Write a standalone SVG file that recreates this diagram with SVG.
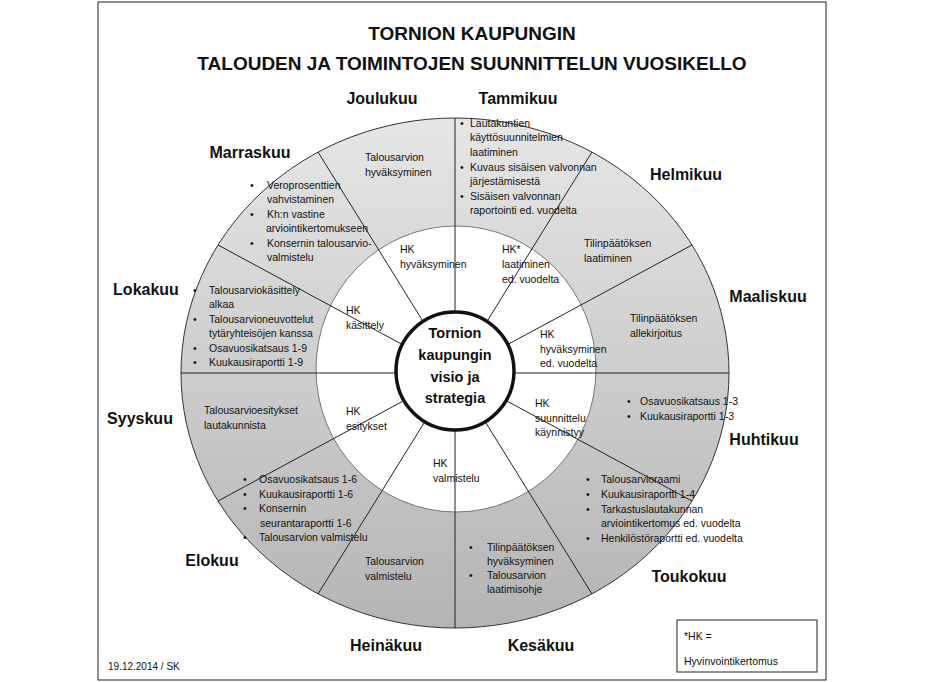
<svg xmlns="http://www.w3.org/2000/svg" width="945" height="682" viewBox="0 0 945 682">
<defs>
<linearGradient id="g" x1="0" y1="0" x2="0" y2="1"><stop offset="0" stop-color="#e6e6e6"/><stop offset="1" stop-color="#b4b4b4"/></linearGradient>
<style>
text{font-family:"Liberation Sans",Arial,sans-serif;fill:#111}
.t{font-size:19px;font-weight:bold;text-anchor:middle}
.m{font-size:16px;font-weight:bold;text-anchor:middle}
.s{font-size:10.5px}
.c{font-size:14.5px;font-weight:bold;text-anchor:middle}
.sp{stroke:#222;stroke-width:1}
</style>
</defs>
<rect x="98" y="2" width="728" height="678" fill="#fff" stroke="#222"/>
<text class="t" x="472" y="40">TORNION KAUPUNGIN</text>
<text class="t" x="472" y="70">TALOUDEN JA TOIMINTOJEN SUUNNITTELUN VUOSIKELLO</text>
<g id="ring">
<ellipse cx="455" cy="373" rx="274" ry="255" fill="url(#g)" stroke="#333"/>
<ellipse cx="456" cy="369" rx="140" ry="143" fill="#fff" stroke="#777"/>
</g>
<g id="connectors" class="sp">
<line x1="455" y1="118" x2="455" y2="628"/>
<line x1="181" y1="373" x2="729" y2="373"/>
<line x1="455" y1="373" x2="592" y2="152"/>
<line x1="455" y1="373" x2="692" y2="245"/>
<line x1="455" y1="373" x2="692" y2="501"/>
<line x1="455" y1="373" x2="592" y2="594"/>
<line x1="455" y1="373" x2="318" y2="594"/>
<line x1="455" y1="373" x2="218" y2="501"/>
<line x1="455" y1="373" x2="218" y2="245"/>
<line x1="455" y1="373" x2="318" y2="152"/>
</g>
<g id="center"><circle cx="455" cy="371" r="59" fill="#fff" stroke="#111" stroke-width="3.5"/>
<text class="c" x="455" y="338">Tornion</text><text class="c" x="455" y="360">kaupungin</text><text class="c" x="455" y="382">visio ja</text><text class="c" x="455" y="403">strategia</text></g>
<g id="months">
<text class="m" x="382" y="104">Joulukuu</text><text class="m" x="518" y="104">Tammikuu</text>
<text class="m" x="250" y="158">Marraskuu</text><text class="m" x="686" y="180">Helmikuu</text>
<text class="m" x="146" y="295">Lokakuu</text><text class="m" x="768" y="302">Maaliskuu</text>
<text class="m" x="140" y="424">Syyskuu</text><text class="m" x="764" y="445">Huhtikuu</text>
<text class="m" x="212" y="566">Elokuu</text><text class="m" x="689" y="582">Toukokuu</text>
<text class="m" x="386" y="651">Heinäkuu</text><text class="m" x="541" y="651">Kesäkuu</text>
</g>
<g id="jan" class="s"><text x="460" y="127">•</text><text x="470" y="127">Lautakuntien</text><text x="470" y="141">käyttösuunnitelmien</text><text x="470" y="156">laatiminen</text><text x="460" y="171">•</text><text x="470" y="171">Kuvaus sisäisen valvonnan</text><text x="470" y="185">järjestämisestä</text><text x="460" y="200">•</text><text x="470" y="200">Sisäisen valvonnan</text><text x="470" y="214">raportointi ed. vuodelta</text></g>
<g id="dec" class="s"><text x="365" y="161">Talousarvion</text><text x="365" y="176">hyväksyminen</text></g>
<g id="nov" class="s"><text x="250" y="189">•</text><text x="267" y="189">Veroprosenttien</text><text x="267" y="203">vahvistaminen</text><text x="250" y="218">•</text><text x="267" y="218">Kh:n vastine</text><text x="266" y="232">arviointikertomukseen</text><text x="250" y="247">•</text><text x="267" y="247">Konsernin talousarvio-</text><text x="267" y="261">valmistelu</text></g>
<g id="feb" class="s"><text x="584" y="247">Tilinpäätöksen</text><text x="584" y="262">laatiminen</text></g>
<g id="mar" class="s"><text x="630" y="322">Tilinpäätöksen</text><text x="630" y="337">allekirjoitus</text></g>
<g id="apr" class="s"><text x="627" y="405">•</text><text x="640" y="405">Osavuosikatsaus 1-3</text><text x="627" y="420">•</text><text x="640" y="420">Kuukausiraportti 1-3</text></g>
<g id="may" class="s"><text x="586" y="483">•</text><text x="601" y="483">Talousarvioraami</text><text x="586" y="498">•</text><text x="601" y="498">Kuukausiraportti 1-4</text><text x="586" y="513">•</text><text x="601" y="513">Tarkastuslautakunnan</text><text x="601" y="527">arviointikertomus ed. vuodelta</text><text x="586" y="542">•</text><text x="601" y="542">Henkilöstöraportti ed. vuodelta</text></g>
<g id="jun" class="s"><text x="469" y="551">•</text><text x="487" y="551">Tilinpäätöksen</text><text x="487" y="565">hyväksyminen</text><text x="469" y="579">•</text><text x="487" y="579">Talousarvion</text><text x="487" y="593">laatimisohje</text></g>
<g id="jul" class="s"><text x="365" y="565">Talousarvion</text><text x="365" y="580">valmistelu</text></g>
<g id="aug" class="s"><text x="243" y="483">•</text><text x="259" y="483">Osavuosikatsaus 1-6</text><text x="243" y="498">•</text><text x="259" y="498">Kuukausiraportti 1-6</text><text x="243" y="512">•</text><text x="259" y="512">Konsernin</text><text x="260" y="527">seurantaraportti 1-6</text><text x="243" y="541">•</text><text x="259" y="541">Talousarvion valmistelu</text></g>
<g id="sep" class="s"><text x="204" y="414">Talousarvioesitykset</text><text x="204" y="429">lautakunnista</text></g>
<g id="oct" class="s"><text x="193" y="294">•</text><text x="209" y="294">Talousarviokäsittely</text><text x="209" y="308">alkaa</text><text x="193" y="323">•</text><text x="209" y="323">Talousarvioneuvottelut</text><text x="209" y="337">tytäryhteisöjen kanssa</text><text x="193" y="352">•</text><text x="209" y="352">Osavuosikatsaus 1-9</text><text x="193" y="366">•</text><text x="209" y="366">Kuukausiraportti 1-9</text></g>
<g id="inner" class="s">
<text x="400" y="253">HK</text><text x="400" y="268">hyväksyminen</text>
<text x="502" y="253">HK*</text><text x="502" y="268">laatiminen</text><text x="502" y="283">ed. vuodelta</text>
<text x="540" y="338">HK</text><text x="540" y="353">hyväksyminen</text><text x="540" y="367">ed. vuodelta</text>
<text x="535" y="407">HK</text><text x="535" y="422">suunnittelu</text><text x="535" y="436">käynnistyy</text>
<text x="433" y="467">HK</text><text x="433" y="482">valmistelu</text>
<text x="346" y="415">HK</text><text x="346" y="430">esitykset</text>
<text x="346" y="314">HK</text><text x="346" y="329">käsittely</text>
</g>
<g id="legend"><rect x="677" y="620" width="140" height="52" fill="#fff" stroke="#222"/><text class="s" x="684" y="640">*HK =</text><text class="s" x="684" y="665">Hyvinvointikertomus</text></g>
<text class="s" x="108" y="670" style="font-size:10px">19.12.2014 / SK</text>
</svg>
